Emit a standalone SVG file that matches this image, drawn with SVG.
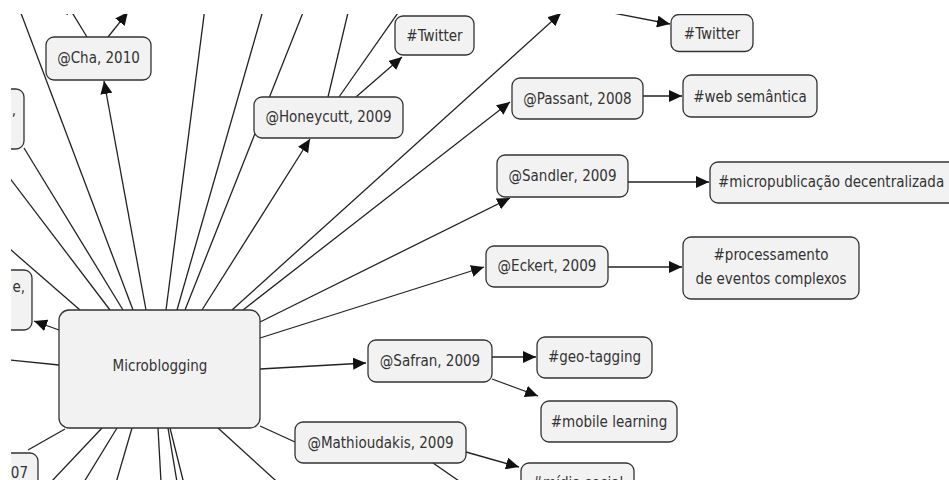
<svg xmlns="http://www.w3.org/2000/svg" width="949" height="480" viewBox="0 0 949 480">
<defs>
<clipPath id="clip"><rect x="11" y="14" width="938" height="466"/></clipPath>
<marker id="arr" markerUnits="userSpaceOnUse" viewBox="0 0 13 12" refX="13" refY="6" markerWidth="13" markerHeight="12" orient="auto"><path d="M0,0 L13,6 L0,12 z" fill="#111"/></marker>
</defs>
<style>
.c line{stroke:#222;stroke-width:1.3;fill:none}
.c line.a{marker-end:url(#arr)}
.n rect{fill:#f2f2f2;stroke:#333;stroke-width:1.3}
text{font-family:"DejaVu Sans Condensed","DejaVu Sans",sans-serif;font-stretch:condensed;font-size:15px;fill:#333;text-anchor:middle}
</style>
<rect width="949" height="480" fill="#fff"/>
<g clip-path="url(#clip)">
<g id="connectors" class="c">
<line x1="80" y1="310" x2="-20" y2="223"/>
<line x1="110" y1="310" x2="-20" y2="139"/>
<line x1="123" y1="310" x2="24" y2="148"/>
<line x1="133" y1="310" x2="16" y2="0"/>
<line class="a" x1="146" y1="310" x2="104" y2="81"/>
<line x1="166" y1="310" x2="206" y2="0"/>
<line x1="177" y1="310" x2="266" y2="0"/>
<line x1="185" y1="310" x2="308" y2="0"/>
<line class="a" x1="202" y1="310" x2="310" y2="139"/>
<line class="a" x1="232" y1="310" x2="561" y2="13"/>
<line class="a" x1="243" y1="310" x2="510" y2="102"/>
<line class="a" x1="260" y1="322" x2="510" y2="198"/>
<line class="a" x1="260" y1="338" x2="484" y2="267"/>
<line class="a" x1="260" y1="369" x2="366" y2="363"/>
<line class="a" x1="59" y1="330" x2="34" y2="321"/>
<line x1="59" y1="365" x2="-20" y2="357"/>
<line x1="65" y1="429" x2="28" y2="450"/>
<line x1="102" y1="428" x2="34" y2="500"/>
<line x1="117" y1="428" x2="73" y2="500"/>
<line x1="132" y1="428" x2="111" y2="500"/>
<line x1="158" y1="428" x2="162" y2="500"/>
<line x1="168" y1="428" x2="180" y2="500"/>
<line x1="170" y1="428" x2="188" y2="500"/>
<line x1="218" y1="428" x2="297" y2="500"/>
<line x1="260" y1="426" x2="295" y2="442"/>
<line class="a" x1="87" y1="37" x2="65" y2="1"/>
<line class="a" x1="108" y1="37" x2="128" y2="12"/>
<line class="a" x1="356" y1="97" x2="402" y2="57"/>
<line x1="328" y1="97" x2="351" y2="0"/>
<line x1="339" y1="97" x2="407" y2="0"/>
<line class="a" x1="546" y1="0" x2="670" y2="24"/>
<line class="a" x1="643" y1="96" x2="682" y2="96"/>
<line class="a" x1="628" y1="182" x2="709" y2="182"/>
<line class="a" x1="608" y1="267" x2="682" y2="267"/>
<line class="a" x1="492" y1="357" x2="536" y2="357"/>
<line class="a" x1="492" y1="379" x2="538" y2="396"/>
<line class="a" x1="466" y1="452" x2="519" y2="467"/>
<line x1="433" y1="463" x2="472" y2="490"/>
</g>
<g id="n-microblogging" class="n"><rect x="59" y="310" width="201" height="118" rx="10"/><text x="160" y="371">Microblogging</text></g>
<g id="n-cha" class="n"><rect x="46" y="37" width="105" height="43" rx="8"/><text x="98.5" y="63">@Cha, 2010</text></g>
<g id="n-honeycutt" class="n"><rect x="254" y="97" width="149" height="41" rx="8"/><text x="328.5" y="122">@Honeycutt, 2009</text></g>
<g id="n-twitter1" class="n"><rect x="395" y="16" width="79" height="39" rx="8"/><text x="434.5" y="41">#Twitter</text></g>
<g id="n-twitter2" class="n"><rect x="671" y="14.5" width="82" height="37" rx="8"/><text x="712" y="39">#Twitter</text></g>
<g id="n-passant" class="n"><rect x="512" y="78" width="131" height="41" rx="8"/><text x="577.5" y="103.5">@Passant, 2008</text></g>
<g id="n-web" class="n"><rect x="683" y="75" width="134" height="42" rx="8"/><text x="750" y="102">#web semântica</text></g>
<g id="n-sandler" class="n"><rect x="497" y="155" width="131" height="42" rx="8"/><text x="562.5" y="181">@Sandler, 2009</text></g>
<g id="n-micropub" class="n"><rect x="710" y="162" width="248" height="41" rx="8"/><text x="718" y="187" style="text-anchor:start">#micropublicação decentralizada</text></g>
<g id="n-eckert" class="n"><rect x="486" y="246" width="122" height="41" rx="8"/><text x="547" y="271">@Eckert, 2009</text></g>
<g id="n-processamento" class="n"><rect x="683" y="237" width="176" height="62" rx="8"/><text x="771" y="260">#processamento</text><text x="771" y="284">de eventos complexos</text></g>
<g id="n-safran" class="n"><rect x="368" y="340" width="124" height="42" rx="8"/><text x="430" y="366">@Safran, 2009</text></g>
<g id="n-geo" class="n"><rect x="537" y="337" width="115" height="41" rx="8"/><text x="594.5" y="362">#geo-tagging</text></g>
<g id="n-mobile" class="n"><rect x="541" y="401" width="136" height="41" rx="8"/><text x="609" y="426.5">#mobile learning</text></g>
<g id="n-mathioudakis" class="n"><rect x="295" y="422" width="171" height="41" rx="8"/><text x="380.5" y="447.5">@Mathioudakis, 2009</text></g>
<g id="n-midia" class="n"><rect x="521" y="463" width="113" height="41" rx="8"/><text x="577.5" y="488">#mídia social</text></g>
<g id="n-left1" class="n"><rect x="-60" y="89" width="84" height="60" rx="8"/><text x="16" y="115" style="text-anchor:end">,</text></g>
<g id="n-left2" class="n"><rect x="-60" y="270" width="92" height="60" rx="8"/><text x="25" y="292" style="text-anchor:end">e,</text></g>
<g id="n-left3" class="n"><rect x="-60" y="453" width="98" height="40" rx="8"/><text x="28" y="478" style="text-anchor:end">07</text></g>
</g>
</svg>
